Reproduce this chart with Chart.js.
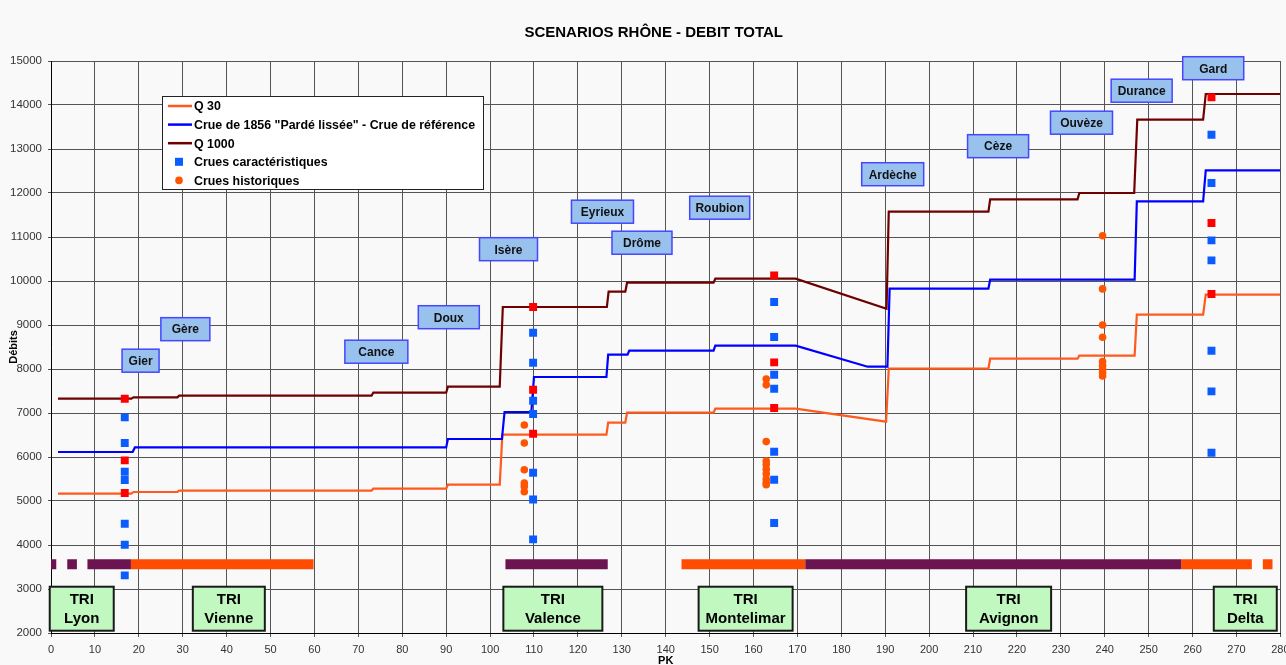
<!DOCTYPE html>
<html>
<head>
<meta charset="utf-8">
<script src="https://cdn.jsdelivr.net/npm/chart.js@4/dist/chart.umd.min.js"></script>
<style>
  html, body { margin: 0; padding: 0; background: #f9f9f9; }
</style>
</head>
<body>
<canvas id="debitChart" width="1286" height="665"></canvas>
<script>
// --- step lines (PK, débit m3/s)
const q30Pk = [1.6, 18.3, 18.8, 28.8, 29.2, 73, 73.4, 90, 90.4, 102.2, 102.8, 126.5, 126.9, 130.8, 131.2, 150.9, 151.3, 169.6, 190.2, 190.8, 213.5, 213.9, 233.8, 234.2, 246.8, 247.3, 262.4, 263, 280];
const q30Q = [5166, 5166, 5205, 5205, 5234, 5234, 5280, 5280, 5370, 5370, 6507, 6507, 6780, 6780, 7007, 7007, 7098, 7098, 6802, 8007, 8007, 8234, 8234, 8302, 8302, 9234, 9234, 9689, 9689];

const crue1856Pk = [1.6, 18.6, 19.1, 90, 90.4, 102.7, 103.3, 109.4, 110, 126.5, 126.9, 131.3, 131.7, 150.9, 151.3, 169.6, 186, 190.5, 191, 213.5, 213.9, 246.8, 247.3, 262.4, 263, 280];
const crue1856Q = [6114, 6114, 6218, 6218, 6409, 6409, 7023, 7023, 7818, 7818, 8325, 8325, 8416, 8416, 8530, 8530, 8052, 8052, 9825, 9825, 10030, 10030, 11809, 11809, 12514, 12514];

const q1000Pk = [1.6, 18.3, 18.8, 28.8, 29.2, 73, 73.4, 90, 90.4, 102.2, 102.9, 126.6, 127, 130.8, 131.2, 150.9, 151.3, 169.6, 190.3, 190.8, 213.5, 213.9, 233.8, 234.2, 246.7, 247.4, 262.4, 263, 280];
const q1000Q = [7325, 7325, 7355, 7355, 7393, 7393, 7461, 7461, 7598, 7598, 9409, 9409, 9757, 9757, 9961, 9961, 10052, 10052, 9370, 11575, 11575, 11855, 11855, 12000, 12000, 13666, 13666, 14250, 14250];

// --- points
const caracPk = [16.8, 109.8, 164.7, 264.3];
const caracQ = [
  [6900, 6318, 5666, 5477, 4484, 4007, 3309],
  [8825, 8143, 7280, 6977, 5643, 5036, 4127],
  [9523, 8727, 7870, 7552, 6120, 5484, 4500],
  [13325, 12227, 10923, 10468, 8416, 7491, 6098]
];
const refPointsQ = [
  [7325, 5923, 5182],
  [9409, 7530, 6530],
  [10127, 8150, 7114],
  [14173, 11318, 9705]
];
const histPk = [107.8, 162.9, 239.5];
const histQ = [
  [6727, 6318, 5711, 5409, 5332, 5211],
  [7770, 7640, 6350, 5910, 5830, 5720, 5620, 5500, 5420, 5370],
  [11030, 9820, 9000, 8720, 8170, 8080, 8000, 7920, 7840]
];

// --- TRI bands (PK start / end)
const triBandQ = 3560;
const triPurple = [[-1, 1.2], [3.7, 5.9], [8.3, 18.2], [103.5, 126.8], [171.8, 257.4]];
const triOrange = [[18.2, 59.8], [143.6, 171.8], [257.4, 273.5], [276, 278.2], [280.3, 283]];

// --- labels
const chartTitle = 'SCENARIOS RHÔNE - DEBIT TOTAL';
const rivers = ['Gier', 'Gère', 'Cance', 'Doux', 'Isère', 'Eyrieux', 'Drôme', 'Roubion', 'Ardèche', 'Cèze', 'Ouvèze', 'Durance', 'Gard'];
const riverPk = [20.4, 30.6, 74.1, 90.6, 104.2, 125.6, 134.6, 152.3, 191.7, 215.7, 234.7, 248.4, 264.7];
const riverQ = [8189, 8905, 8393, 9177, 10723, 11575, 10870, 11666, 12427, 13064, 13598, 14325, 14836];
const riverBoxW = [37, 49, 63, 61, 58, 62, 60, 60, 62, 61, 62, 61, 61];

const triNames = ['Lyon', 'Vienne', 'Valence', 'Montelimar', 'Avignon', 'Delta'];
const triPk = [7.0, 40.5, 114.3, 158.2, 218.1, 272.0];
const triQ = 2552;
const triBoxW = [64, 72, 99, 94, 85, 63];

const pts = (xs, ys) => xs.map((x, i) => ({ x: x, y: ys[i] }));
const groups = (xs, yss) => xs.flatMap((x, i) => yss[i].map(y => ({ x: x, y: y })));
const bands = (segs) => segs.flatMap(s => [{ x: s[0], y: triBandQ }, { x: s[1], y: triBandQ }, { x: s[1], y: null }]);

const FONT = '"Liberation Sans", Arial, sans-serif';
Chart.defaults.font.family = FONT;

const lineDs = (label, data, color, order) => ({
  label: label, data: data, borderColor: color, backgroundColor: color,
  borderWidth: 2.2, pointRadius: 0, order: order, tension: 0
});
const pointDs = (label, data, color, style, radius, order) => ({
  label: label, data: data, showLine: false, pointStyle: style,
  pointRadius: radius, pointBorderWidth: 0,
  pointBackgroundColor: color, backgroundColor: color, borderColor: color, order: order
});
const bandDs = (data, color) => ({
  label: '', data: data, borderColor: color, borderWidth: 10, borderCapStyle: 'butt',
  pointRadius: 0, spanGaps: false, order: 10
});

const datasets = [
  lineDs('Q 30', pts(q30Pk, q30Q), '#ff5a1e', 5),
  lineDs('Crue de 1856 "Pardé lissée" - Crue de référence', pts(crue1856Pk, crue1856Q), '#0000ff', 4),
  lineDs('Q 1000', pts(q1000Pk, q1000Q), '#6e0000', 3),
  pointDs('Crues caractéristiques', groups(caracPk, caracQ), '#0a5cff', 'rect', 5.6, 1),
  pointDs('Crues historiques', groups(histPk, histQ), '#ff5500', 'circle', 3.8, 2),
  pointDs('', groups(caracPk, refPointsQ), '#ff0000', 'rect', 5.6, 0),
  bandDs(bands(triPurple), '#6b1450'),
  bandDs(bands(triOrange), '#ff4c00')
];

const annotations = {
  id: 'annotations',
  beforeDraw(chart) {
    const { ctx, chartArea } = chart;
    ctx.save();
    ctx.fillStyle = '#f9f9f9';
    ctx.fillRect(0, 0, chart.width, chart.height);
    // title, centred a little right of the canvas middle as in the original
    ctx.font = 'bold 15px ' + FONT;
    ctx.fillStyle = '#000';
    ctx.textAlign = 'center';
    ctx.textBaseline = 'middle';
    ctx.fillText(chartTitle, (chartArea.left + chartArea.right) / 2 - 12, 33);
    ctx.restore();
  },
  afterDatasetsDraw(chart) {
    const { ctx, scales: { x, y } } = chart;
    ctx.save();
    ctx.textAlign = 'center';
    ctx.textBaseline = 'middle';

    // rivers
    ctx.font = 'bold 12px ' + FONT;
    rivers.forEach((name, i) => {
      const cx = x.getPixelForValue(riverPk[i]);
      const cy = y.getPixelForValue(riverQ[i]);
      const w = riverBoxW[i], h = 23;
      ctx.fillStyle = '#99c1ee';
      ctx.fillRect(cx - w / 2, cy - h / 2, w, h);
      ctx.strokeStyle = '#4646ff';
      ctx.lineWidth = 1.5;
      ctx.strokeRect(cx - w / 2, cy - h / 2, w, h);
      ctx.fillStyle = '#111';
      ctx.fillText(name, cx, cy + 1);
    });

    // TRI
    ctx.font = 'bold 15px ' + FONT;
    triNames.forEach((name, i) => {
      const cx = x.getPixelForValue(triPk[i]);
      const cy = y.getPixelForValue(triQ);
      const w = triBoxW[i], h = 44;
      ctx.fillStyle = '#c0f8c0';
      ctx.fillRect(cx - w / 2, cy - h / 2, w, h);
      ctx.strokeStyle = '#1a1a1a';
      ctx.lineWidth = 2;
      ctx.strokeRect(cx - w / 2, cy - h / 2, w, h);
      ctx.fillStyle = '#000';
      ctx.fillText('TRI', cx, cy - 9);
      ctx.fillText(name, cx, cy + 10);
    });
    ctx.restore();
  },
  afterDraw(chart) {
    const { ctx, chartArea } = chart;
    const lx = chartArea.left + 111, ly = chartArea.top + 35, lw = 321, lh = 93;
    ctx.save();
    ctx.fillStyle = '#ffffff';
    ctx.fillRect(lx, ly, lw, lh);
    ctx.strokeStyle = '#222';
    ctx.lineWidth = 1;
    ctx.strokeRect(lx + 0.5, ly + 0.5, lw, lh);
    ctx.font = 'bold 12.4px ' + FONT;
    ctx.textBaseline = 'middle';
    ctx.textAlign = 'left';
    for (let i = 0; i < 5; i++) {
      const ds = chart.data.datasets[i];
      const ry = ly + 10 + i * 18.6;
      if (ds.showLine === false) {
        ctx.fillStyle = ds.pointBackgroundColor;
        if (ds.pointStyle === 'rect') {
          ctx.fillRect(lx + 13, ry - 4, 8, 8);
        } else {
          ctx.beginPath();
          ctx.arc(lx + 17, ry, 3.8, 0, Math.PI * 2);
          ctx.fill();
        }
      } else {
        ctx.strokeStyle = ds.borderColor;
        ctx.lineWidth = 2.5;
        ctx.beginPath();
        ctx.moveTo(lx + 6, ry);
        ctx.lineTo(lx + 30, ry);
        ctx.stroke();
      }
      ctx.fillStyle = '#000';
      ctx.fillText(ds.label, lx + 32, ry + 1);
    }
    ctx.restore();
  }
};

new Chart(document.getElementById('debitChart'), {
  type: 'line',
  data: { datasets: datasets },
  options: {
    responsive: false,
    animation: false,
    layout: { padding: { left: 0, right: 3, top: 61, bottom: 0 } },
    plugins: {
      legend: { display: false },
      tooltip: { enabled: false },
      title: { display: false }
    },
    scales: {
      x: {
        type: 'linear',
        min: 0,
        max: 280,
        ticks: { stepSize: 10, autoSkip: false, maxRotation: 0, color: '#333', font: { size: 11 }, padding: 6 },
        grid: { color: '#555', tickLength: 4 },
        border: { color: '#000' },
        title: { display: true, text: 'PK', color: '#000', font: { size: 11, weight: 'bold' }, padding: { top: 0, bottom: -3 } },
        afterFit(s) { s.height = 32; s.paddingLeft = 0; s.paddingRight = 0; }
      },
      y: {
        min: 2000,
        max: 15000,
        ticks: { stepSize: 1000, color: '#333', font: { size: 11.5 }, padding: 6, callback: (v) => String(v) },
        grid: { color: '#555', tickLength: 3 },
        border: { color: '#000' },
        title: { display: true, text: 'Débits', color: '#000', font: { size: 11, weight: 'bold' }, padding: { top: 7.4, bottom: 0 } },
        afterFit(s) { s.width = 51; s.paddingTop = 0; s.paddingBottom = 0; }
      }
    }
  },
  plugins: [annotations]
});
</script>
</body>
</html>
